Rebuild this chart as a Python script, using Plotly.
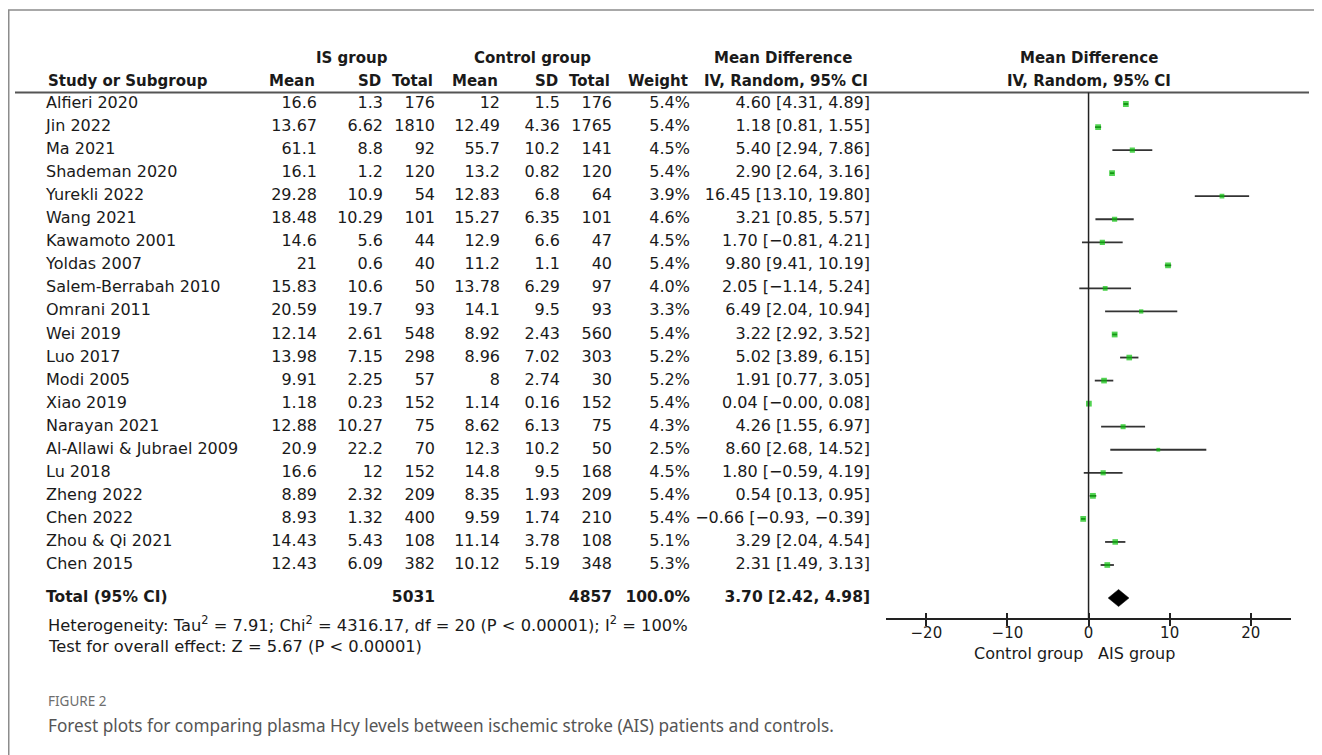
import plotly.graph_objects as go

studies = ["Alfieri 2020", "Jin 2022", "Ma 2021", "Shademan 2020", "Yurekli 2022",
           "Wang 2021", "Kawamoto 2001", "Yoldas 2007", "Salem-Berrabah 2010",
           "Omrani 2011", "Wei 2019", "Luo 2017", "Modi 2005", "Xiao 2019",
           "Narayan 2021", "Al-Allawi & Jubrael 2009", "Lu 2018", "Zheng 2022",
           "Chen 2022", "Zhou & Qi 2021", "Chen 2015"]
is_mean = [16.6, 13.67, 61.1, 16.1, 29.28, 18.48, 14.6, 21, 15.83, 20.59, 12.14,
           13.98, 9.91, 1.18, 12.88, 20.9, 16.6, 8.89, 8.93, 14.43, 12.43]
is_sd = [1.3, 6.62, 8.8, 1.2, 10.9, 10.29, 5.6, 0.6, 10.6, 19.7, 2.61,
         7.15, 2.25, 0.23, 10.27, 22.2, 12, 2.32, 1.32, 5.43, 6.09]
is_total = [176, 1810, 92, 120, 54, 101, 44, 40, 50, 93, 548,
            298, 57, 152, 75, 70, 152, 209, 400, 108, 382]
ctrl_mean = [12, 12.49, 55.7, 13.2, 12.83, 15.27, 12.9, 11.2, 13.78, 14.1, 8.92,
             8.96, 8, 1.14, 8.62, 12.3, 14.8, 8.35, 9.59, 11.14, 10.12]
ctrl_sd = [1.5, 4.36, 10.2, 0.82, 6.8, 6.35, 6.6, 1.1, 6.29, 9.5, 2.43,
           7.02, 2.74, 0.16, 6.13, 10.2, 9.5, 1.93, 1.74, 3.78, 5.19]
ctrl_total = [176, 1765, 141, 120, 64, 101, 47, 40, 97, 93, 560,
              303, 30, 152, 75, 50, 168, 209, 210, 108, 348]
weight = [5.4, 5.4, 4.5, 5.4, 3.9, 4.6, 4.5, 5.4, 4.0, 3.3, 5.4,
          5.2, 5.2, 5.4, 4.3, 2.5, 4.5, 5.4, 5.4, 5.1, 5.3]
md = [4.60, 1.18, 5.40, 2.90, 16.45, 3.21, 1.70, 9.80, 2.05, 6.49, 3.22,
      5.02, 1.91, 0.04, 4.26, 8.60, 1.80, 0.54, -0.66, 3.29, 2.31]
ci_low = [4.31, 0.81, 2.94, 2.64, 13.10, 0.85, -0.81, 9.41, -1.14, 2.04, 2.92,
          3.89, 0.77, -0.0, 1.55, 2.68, -0.59, 0.13, -0.93, 2.04, 1.49]
ci_high = [4.89, 1.55, 7.86, 3.16, 19.80, 5.57, 4.21, 10.19, 5.24, 10.94, 3.52,
           6.15, 3.05, 0.08, 6.97, 14.52, 4.19, 0.95, -0.39, 4.54, 3.13]

total_is = 5031
total_ctrl = 4857
total_weight = 100.0
total_md, total_lo, total_hi = 3.70, 2.42, 4.98

axis_ticks = [-20, -10, 0, 10, 20]
heterogeneity = ("Heterogeneity: Tau<sup>2</sup> = 7.91; Chi<sup>2</sup> = 4316.17, df = 20 "
                 "(P < 0.00001); I<sup>2</sup> = 100%")
overall = "Test for overall effect: Z = 5.67 (P < 0.00001)"
caption_label = "FIGURE 2"
caption = ("Forest plots for comparing plasma Hcy levels between ischemic stroke (AIS) "
           "patients and controls.")

# ---------- page geometry (page pixels; the html body adds an 8px margin) ----------
OFF = 8
PAGE_W, PAGE_H = 1322, 755
W, H = PAGE_W - OFF, PAGE_H - OFF
ROW0, ROWH = 104.0, 23.05          # page-pixel y of first study row, row pitch


def ry(p):                          # page pixel y -> row index
    return (p - ROW0) / ROWH


def py(p):                          # page pixel y -> paper
    return 1 - (p - OFF) / H


def px(p):                          # page pixel x -> paper
    return (p - OFF) / W


def num(v):
    return f"{v:g}"


def fmt2(v):
    return f"{v:.2f}".replace("-", "\u2212")


def ci_text(m, lo, hi):
    return f"{fmt2(m)} [{fmt2(lo)}, {fmt2(hi)}]"


FONT = "DejaVu Sans"
FS = 16
HFS = 15          # header (bold) size
TXT = "#1a1a1a"
rows = list(range(len(studies)))

fig = go.Figure()

col_right = {"is_mean": 317, "is_sd": 383, "is_total": 435, "c_mean": 500,
             "c_sd": 560, "c_total": 612, "weight": 690, "ci": 870}
NAME_X = 46


def text_col(xpos, texts, yvals, pos, bold=False, size=FS):
    fig.add_trace(go.Scatter(
        x=[xpos] * len(texts), y=yvals, text=texts, mode="text",
        textposition=pos, xaxis="x", yaxis="y", hoverinfo="skip", showlegend=False,
        textfont=dict(family=FONT, size=size, color=TXT,
                      weight="bold" if bold else "normal")))


text_col(NAME_X, studies, rows, "middle right")
text_col(col_right["is_mean"], [num(v) for v in is_mean], rows, "middle left")
text_col(col_right["is_sd"], [num(v) for v in is_sd], rows, "middle left")
text_col(col_right["is_total"], [num(v) for v in is_total], rows, "middle left")
text_col(col_right["c_mean"], [num(v) for v in ctrl_mean], rows, "middle left")
text_col(col_right["c_sd"], [num(v) for v in ctrl_sd], rows, "middle left")
text_col(col_right["c_total"], [num(v) for v in ctrl_total], rows, "middle left")
text_col(col_right["weight"], [f"{w:.1f}%" for w in weight], rows, "middle left")
text_col(col_right["ci"], [ci_text(m, l, h) for m, l, h in zip(md, ci_low, ci_high)],
         rows, "middle left")

TOT_Y = ry(598)
TFS = 15.5
text_col(NAME_X, ["Total (95% CI)"], [TOT_Y], "middle right", bold=True, size=TFS)
text_col(col_right["is_total"], [str(total_is)], [TOT_Y], "middle left", bold=True, size=TFS)
text_col(col_right["c_total"], [str(total_ctrl)], [TOT_Y], "middle left", bold=True, size=TFS)
text_col(col_right["weight"], [f"{total_weight:.1f}%"], [TOT_Y], "middle left", bold=True,
         size=TFS)
text_col(col_right["ci"], [ci_text(total_md, total_lo, total_hi)], [TOT_Y], "middle left",
         bold=True, size=TFS)

fig.add_trace(go.Scatter(
    x=md, y=rows, mode="markers", xaxis="x2", yaxis="y", showlegend=False,
    marker=dict(symbol="square", color="#09c009",
                size=[2.0 + 0.7 * w for w in weight], line=dict(width=0)),
    error_x=dict(type="data", symmetric=False,
                 array=[h - m for m, h in zip(md, ci_high)],
                 arrayminus=[m - l for m, l in zip(md, ci_low)],
                 color="#333333", thickness=1.8, width=0)))

DH = 0.37
fig.add_trace(go.Scatter(
    x=[total_lo, total_md, total_hi, total_md, total_lo],
    y=[TOT_Y, TOT_Y - DH, TOT_Y, TOT_Y + DH, TOT_Y],
    mode="lines", fill="toself", fillcolor="black", line=dict(color="black", width=0.5),
    xaxis="x2", yaxis="y", showlegend=False, hoverinfo="skip"))

ann = []


def A(text, x, y, anchor="left", bold=False, size=FS, color=TXT, family=FONT,
      xref="paper"):
    ann.append(dict(text=text, x=x if xref != "paper" else px(x), y=py(y),
                    xref=xref, yref="paper", xanchor=anchor, yanchor="middle",
                    showarrow=False,
                    font=dict(family=family, size=size, color=color,
                              weight="bold" if bold else "normal")))


A("IS group", 352, 58, "center", True, HFS)
A("Control group", 532, 58, "center", True, HFS)
A("Mean Difference", 783, 58, "center", True, HFS)
A("Mean Difference", 1088.5, 58, "center", True, HFS)
A("Study or Subgroup", NAME_X, 81, "left", True, HFS)
A("Mean", col_right["is_mean"], 81, "right", True, HFS)
A("SD", col_right["is_sd"], 81, "right", True, HFS)
A("Total", col_right["is_total"], 81, "right", True, HFS)
A("Mean", col_right["c_mean"], 81, "right", True, HFS)
A("SD", col_right["c_sd"], 81, "right", True, HFS)
A("Total", col_right["c_total"], 81, "right", True, HFS)
A("Weight", col_right["weight"], 81, "right", True, HFS)
A("IV, Random, 95% CI", col_right["ci"], 81, "right", True, HFS)
A("IV, Random, 95% CI", 1088.5, 81, "center", True, HFS)

A(heterogeneity, NAME_X, 624, size=16.3)
A(overall, NAME_X, 646, size=16.3)

A("Control group", -0.4, 653, "right", xref="x2")
A("AIS group", 0.9, 653, "left", xref="x2")

A(caption_label, NAME_X, 701, size=13.5, color="#6e6e6e", family="Noto Sans")
A(caption, NAME_X, 725, size=17.2, color="#555555", family="Noto Sans")

AXIS_Y = 619
shapes = [
    dict(type="path", xref="paper", yref="paper",
         path=f"M {px(8.75)} {py(770)} L {px(8.75)} {py(10)} L {px(1340)} {py(10)}",
         line=dict(color="#8c8c8c", width=1.5)),
    dict(type="line", xref="paper", yref="paper", x0=px(15), x1=px(1309),
         y0=py(92.5), y1=py(92.5), line=dict(color="#555555", width=2)),
    dict(type="line", xref="x2", yref="paper", x0=0, x1=0, y0=py(AXIS_Y), y1=py(92.5),
         line=dict(color="#222222", width=1.5)),
]

x_dom = [px(885.8), px(1291.3)]
tick_txt = [str(t).replace("-", "\u2212") for t in axis_ticks]
fig.update_layout(
    width=W, height=H, margin=dict(l=0, r=0, t=0, b=0),
    paper_bgcolor="white", plot_bgcolor="rgba(0,0,0,0)",
    xaxis=dict(domain=[0, 1], range=[OFF, PAGE_W], visible=False, fixedrange=True),
    yaxis=dict(domain=[0, 1], range=[ry(PAGE_H), ry(OFF)], visible=False, fixedrange=True),
    xaxis2=dict(domain=x_dom, range=[-25, 25], anchor="free", position=py(AXIS_Y),
                showline=True, linecolor="#222222", linewidth=1.5, showgrid=False,
                zeroline=False, ticks="outside", ticklen=6, tickwidth=1.5,
                tickcolor="#222222", tickvals=axis_ticks, showticklabels=False,
                fixedrange=True),
    xaxis3=dict(overlaying="x2", range=[-25, 25], anchor="free", position=py(AXIS_Y),
                showline=False, showgrid=False, zeroline=False, ticks="inside",
                ticklen=6, tickwidth=1.5, tickcolor="#222222", tickvals=axis_ticks,
                ticktext=tick_txt, showticklabels=True, ticklabelstandoff=3,
                tickfont=dict(family=FONT, size=15, color=TXT), fixedrange=True),
    annotations=ann, shapes=shapes, showlegend=False,
)
fig.add_trace(go.Scatter(x=[0], y=[ry(AXIS_Y)], xaxis="x3", yaxis="y", mode="markers",
                         marker=dict(opacity=0), hoverinfo="skip", showlegend=False))

fig.write_html("out.html")
